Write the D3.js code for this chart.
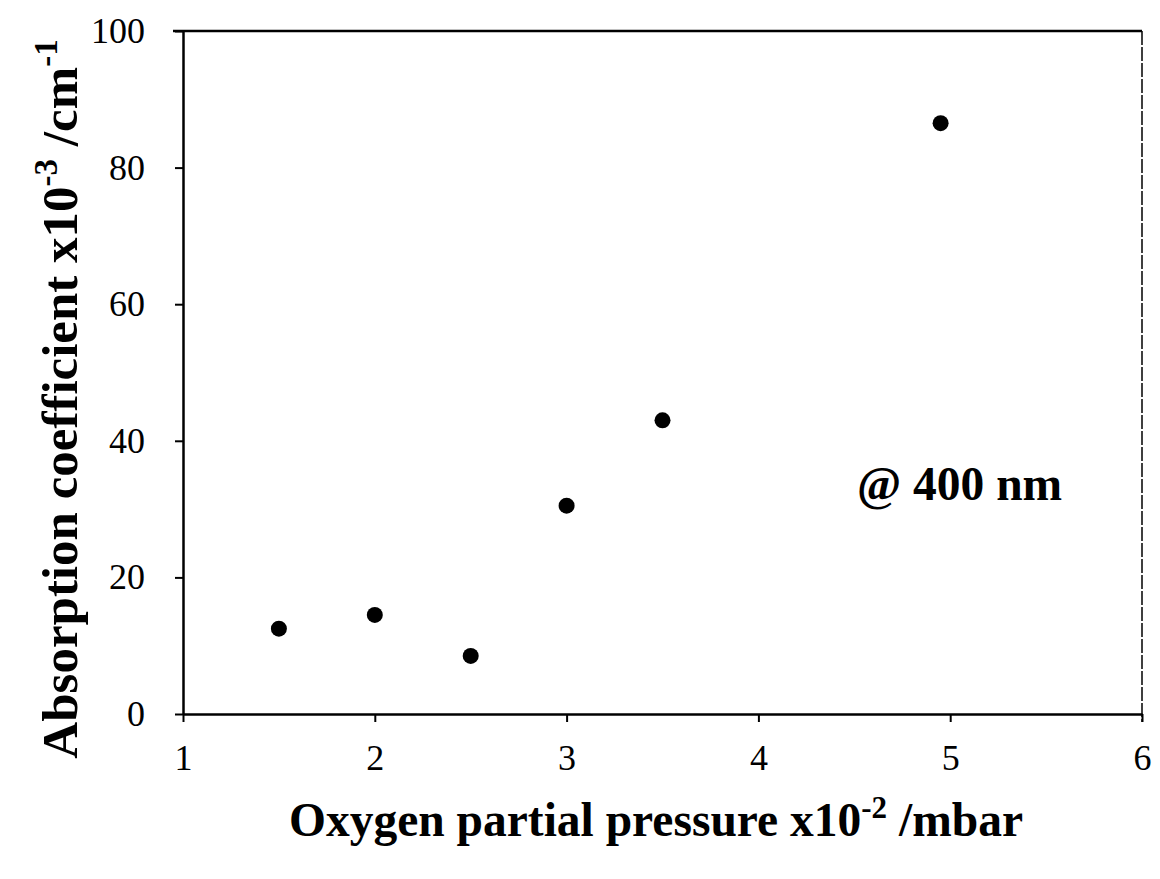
<!DOCTYPE html>
<html>
<head>
<meta charset="utf-8">
<script src="https://cdn.jsdelivr.net/npm/d3@7"></script>
<style>
  html, body { margin: 0; padding: 0; background: #fff; }
  svg { display: block; }
  text { font-family: "Liberation Serif", "Times New Roman", serif; fill: #000; }
</style>
</head>
<body>
<svg id="chart" width="1160" height="879"></svg>
<script>
// Data
const pressure = [1.5, 2.0, 2.5, 3.0, 3.5, 4.95];       // x10^-2 mbar
const absorption = [12.5, 14.5, 8.5, 30.5, 43.0, 86.5];  // x10^-3 /cm^-1
const xTicks = [1, 2, 3, 4, 5, 6];
const yTicks = [0, 20, 40, 60, 80, 100];

const svg = d3.select("#chart");
const m = { left: 183, right: 1142, top: 31, bottom: 714 };

const x = d3.scaleLinear().domain([1, 6]).range([m.left, m.right]);
const y = d3.scaleLinear().domain([0, 100]).range([m.bottom, m.top]);

// frame (top and right)
svg.append("line").attr("x1", x(1) - 10).attr("x2", x(6)).attr("y1", y(100)).attr("y2", y(100))
  .attr("stroke", "#000").attr("stroke-width", 2.5);
svg.append("line").attr("x1", x(6)).attr("x2", x(6)).attr("y1", y(100)).attr("y2", y(0) + 8)
  .attr("stroke", "#000").attr("stroke-width", 1.5).attr("stroke-dasharray", "14,2");

// x axis
const xAxis = svg.append("g").attr("transform", `translate(0,${y(0)})`)
  .call(d3.axisBottom(x).tickValues(xTicks).tickFormat(d3.format("d")).tickSizeInner(8).tickSizeOuter(0).tickPadding(22));
xAxis.select(".domain").attr("stroke-width", 2.5);
xAxis.selectAll(".tick line").attr("stroke-width", 2);
xAxis.selectAll(".tick text").attr("font-size", 36).attr("font-family", "Liberation Serif");

// y axis
const yAxis = svg.append("g").attr("transform", `translate(${x(1)},0)`)
  .call(d3.axisLeft(y).tickValues(yTicks).tickFormat(d3.format("d")).tickSizeInner(8).tickSizeOuter(0).tickPadding(30));
yAxis.select(".domain").attr("stroke-width", 2.5);
yAxis.selectAll(".tick line").attr("stroke-width", 2);
yAxis.selectAll(".tick text").attr("font-size", 36).attr("font-family", "Liberation Serif");

// points
svg.append("g").selectAll("circle")
  .data(pressure.map((p, i) => [p, absorption[i]]))
  .join("circle")
  .attr("cx", d => x(d[0])).attr("cy", d => y(d[1])).attr("r", 8).attr("fill", "#000");

// annotation
svg.append("text").attr("x", 857).attr("y", 500)
  .attr("font-size", 47.5).attr("font-weight", "bold").text("@ 400 nm");

// x title
const xt = svg.append("text").attr("x", 656).attr("y", 836).attr("text-anchor", "middle")
  .attr("font-size", 47.5).attr("font-weight", "bold");
xt.append("tspan").text("Oxygen partial pressure x10");
xt.append("tspan").attr("dy", -18).attr("font-size", 31).text("-2");
xt.append("tspan").attr("dy", 18).text(" /mbar");

// y title
const yt = svg.append("text").attr("transform", "translate(77,399) rotate(-90)").attr("text-anchor", "middle")
  .attr("font-size", 51).attr("font-weight", "bold");
yt.append("tspan").text("Absorption coefficient x10");
yt.append("tspan").attr("dy", -20).attr("font-size", 33).text("-3");
yt.append("tspan").attr("dy", 20).text(" /cm");
yt.append("tspan").attr("dy", -20).attr("font-size", 33).text("-1");
</script>
</body>
</html>
